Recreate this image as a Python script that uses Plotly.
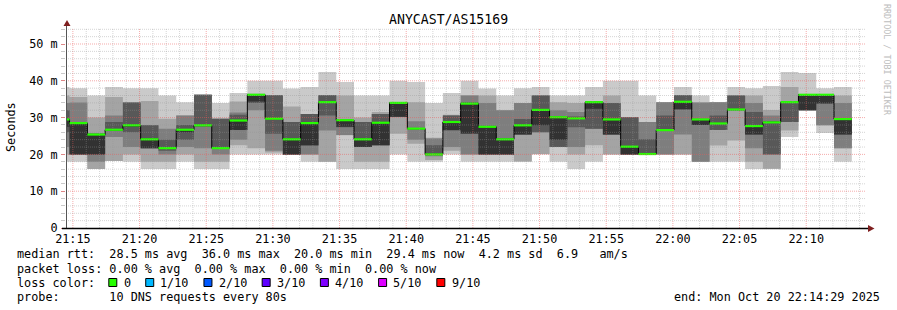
import pandas as pd
import plotly.graph_objects as go

# ---------------- data ----------------
title = "ANYCAST/AS15169"
step_start = "2025-10-20 21:13:25"   # start of first (partially visible) 80 s step
step_seconds = 80
range_start = "2025-10-20 21:14:29"
range_end = "2025-10-20 22:14:29"

# sorted ping times (ms) per 80 s step, p1 = fastest ... p10 = slowest
p1 = [18, 18, 16, 18.2, 18, 16, 16, 18, 16, 16, 20, 20, 20, 20, 18, 18, 16, 16, 16, 20, 18, 18, 20,
      18, 18, 18, 18, 20, 18, 16, 18, 20, 20, 20, 20, 20, 18, 18, 18, 16, 16, 24.7, 32, 25.8, 18]
p2 = [20, 20, 16, 18.2, 20, 18, 18, 20, 18, 18, 22.5, 21.7, 20.5, 20, 20, 18, 25.2, 18, 18, 25.6, 22.9, 18.5, 21,
      20, 20, 20, 18.1, 20.1, 22, 20, 22.5, 20, 20, 20, 20, 20, 18, 22.4, 23.8, 18, 16.1, 26.5, 32, 27.9, 21.7]
p3 = [22, 20, 18, 24.7, 22, 21.7, 20, 22, 21.7, 20, 24, 32, 21, 20, 20, 26.5, 25.3, 22, 22.5, 30.2, 24, 19.5, 22,
      20, 20, 20, 25.4, 26, 22, 22, 27, 25.4, 20, 20, 20, 25.4, 18, 26.6, 32, 21.7, 20, 28.8, 32, 27.9, 21.7]
p4 = [26, 20, 20, 26.4, 26, 21.7, 21, 24, 27.5, 21.6, 26.6, 34, 25.6, 20, 22.4, 30.6, 27.4, 22, 22.5, 30.2, 26.8, 19.8, 26.5,
      25.6, 20, 20, 25.4, 26, 22, 27.4, 27, 25.4, 20, 20, 26.5, 32.2, 28, 26.6, 32, 25.4, 20, 28.8, 32, 33.8, 25.4]
p5 = [27.5, 20, 20, 26.5, 27.5, 21.7, 21.5, 26, 27.7, 21.6, 26.6, 34.4, 29.6, 20, 22.5, 34, 27.5, 22, 22.5, 30.2, 26.9, 19.9, 26.6,
      25.7, 20, 20, 25.4, 27.9, 24, 29.7, 32.4, 25.4, 20, 20, 26.5, 32.3, 28, 28.3, 32, 25.4, 28.6, 34.1, 32, 33.8, 25.4]
p6 = [29.5, 28.5, 25.4, 26.7, 27.9, 24.1, 21.7, 26.7, 27.9, 21.7, 29.2, 36.2, 29.7, 24.1, 28.5, 34.2, 29.3, 24.1, 28.6, 34, 27, 20, 28.8,
      33.8, 27.5, 24.1, 27.9, 32.1, 30.1, 29.8, 34.2, 29.5, 22.1, 20.1, 26.6, 34.3, 29.5, 28.4, 32.2, 27.7, 28.7, 34.2, 36.2, 36.2, 29.6]
p7 = [32, 28.8, 25.6, 28.8, 34.1, 27.9, 24, 28, 36.2, 29.7, 30.8, 36.3, 36.1, 28.8, 31, 36.1, 29.4, 28.8, 31, 34.1, 27.2, 22.5, 30.6,
      34.2, 27.8, 24.3, 29.6, 36, 30.3, 30.3, 34.3, 34, 30.1, 24.1, 30.6, 36.1, 29.6, 30.6, 36, 31.5, 29.1, 34.3, 36.3, 36.3, 29.7]
p8 = [34, 34.1, 25.8, 30.6, 34.1, 27.9, 27, 30.6, 36.2, 29.7, 31.4, 36.4, 36.1, 28.8, 31, 36.1, 29.5, 28.8, 31, 34.1, 29, 24.3, 30.6,
      36, 34, 32, 34, 36, 32, 31.5, 34.3, 34, 30.1, 28.8, 34.2, 36.1, 34.1, 34.2, 36, 34, 30.6, 34.3, 36.3, 36.3, 34]
p9 = [36, 35.6, 30, 35.6, 34.1, 34.5, 29.7, 30.6, 36.2, 29.7, 34.4, 36.5, 36.1, 33, 31, 36.1, 36, 30, 31.5, 34.2, 34.2, 24.5, 30.8,
      36.1, 36, 32, 34, 36.1, 34.2, 34, 34.4, 36, 30.1, 28.8, 34.2, 36.1, 34.1, 34.2, 36, 36, 32.1, 38.3, 36.4, 36.4, 36]
p10 = [38.3, 38, 36, 38.3, 38, 38, 36, 34.2, 36.2, 34, 36.7, 40, 40, 37.9, 38.3, 42.4, 39.7, 36, 36, 40, 39.7, 34, 36.7,
       40, 37.9, 36, 38, 38.3, 36, 36, 38.3, 40, 40, 36, 34.2, 38.3, 36, 34.2, 38.3, 38, 38.6, 42.4, 42.1, 38, 38.3]
median_rtt = [29.5, 28.5, 25.4, 26.7, 27.9, 24.1, 21.7, 26.7, 27.9, 21.7, 29.2, 36.2, 29.7, 24.1, 28.5, 34.2, 29.3, 24.1, 28.6, 34, 27, 20, 28.8,
              33.8, 27.5, 24.1, 27.9, 32.1, 30.1, 29.8, 34.2, 29.5, 22.1, 20.1, 26.6, 34.3, 29.5, 28.4, 32.2, 27.7, 28.7, 34.2, 36.2, 36.2, 29.6]

y_tick_vals = [0, 10, 20, 30, 40, 50]
y_tick_text = ["0", "10 m", "20 m", "30 m", "40 m", "50 m"]

stats_line = "median rtt:  28.5 ms avg  36.0 ms max  20.0 ms min  29.4 ms now  4.2 ms sd  6.9   am/s"
loss_line = "packet loss: 0.00 % avg  0.00 % max  0.00 % min  0.00 % now"
loss_title = "loss color:"
loss_labels = ["0", "1/10", "2/10", "3/10", "4/10", "5/10", "9/10"]
loss_colors = ["#26ff00", "#00b8ff", "#0059ff", "#5e00ff", "#7e00ff", "#dd00ff", "#ff0000"]
probe_line = "probe:       10 DNS requests every 80s"
end_text = "end: Mon Oct 20 22:14:29 2025"
watermark = "RRDTOOL / TOBI OETIKER"

smoke_colors = ["#cacaca", "#a4a4a4", "#7e7e7e", "#585858", "#323232"]
median_color = "#26ff00"

# ---------------- geometry ----------------
W, H = 897, 310
PL, PR, PT, PB = 66, 866, 28, 228
PW, PH = PR - PL, PB - PT
Y_MAX = 54.35
FONT = "DejaVu Sans Mono"
FS = 11.8
CW = 7.1  # char width at FS


def fx(x):
    return (x - PL) / PW


def fy(y):
    return (PB - y) / PH


def nb(s):
    return s.replace(" ", "\u00a0")


edges = pd.date_range(step_start, periods=len(median_rtt) + 1, freq=f"{step_seconds}s")
ex = [t.strftime("%Y-%m-%d %H:%M:%S") for t in edges]

pings = [p1, p2, p3, p4, p5, p6, p7, p8, p9, p10]

fig = go.Figure()

# smoke bands: (p1,p10) lightest ... (p5,p6) darkest
for i in range(5):
    lo = pings[i]
    hi = pings[9 - i]
    fig.add_trace(go.Scatter(x=ex, y=lo + [lo[-1]], mode="lines", line=dict(width=0, shape="hv"),
                             hoverinfo="skip", showlegend=False))
    fig.add_trace(go.Scatter(x=ex, y=hi + [hi[-1]], mode="lines", line=dict(width=0, shape="hv"),
                             fill="tonexty", fillcolor=smoke_colors[i], hoverinfo="skip", showlegend=False))

# thin black step line of median
fig.add_trace(go.Scatter(x=ex, y=median_rtt + [median_rtt[-1]], mode="lines",
                         line=dict(color="black", width=1, shape="hv"), hoverinfo="skip", showlegend=False))

# green median segments
gx, gy = [], []
for k, m in enumerate(median_rtt):
    gx += [ex[k], ex[k + 1], None]
    gy += [m, m, None]
fig.add_trace(go.Scatter(x=gx, y=gy, mode="lines", line=dict(color=median_color, width=2.2),
                         hoverinfo="skip", showlegend=False))

shapes = []
# grid on top (rrdtool style)
t0 = pd.Timestamp(range_start)
t1 = pd.Timestamp(range_end)
minute = t0.ceil("min")
while minute <= t1:
    major = minute.minute % 5 == 0
    shapes.append(dict(type="line", xref="x", yref="paper", x0=minute, x1=minute, y0=0, y1=1,
                       layer="above",
                       line=dict(color="rgba(235,90,90,0.5)" if major else "rgba(150,150,150,0.4)",
                                 width=1, dash="1px,1px")))
    minute += pd.Timedelta(minutes=1)
for v in range(2, int(Y_MAX) + 1, 2):
    major = v % 10 == 0
    shapes.append(dict(type="line", xref="paper", yref="y", x0=0, x1=1, y0=v, y1=v, layer="above",
                       line=dict(color="rgba(235,90,90,0.5)" if major else "rgba(150,150,150,0.4)",
                                 width=1, dash="1px,1px")))

# axes lines and arrows
shapes.append(dict(type="line", xref="paper", yref="paper", x0=fx(66.5), x1=fx(66.5), y0=fy(228), y1=fy(24),
                   layer="above", line=dict(color="#555555", width=1)))
shapes.append(dict(type="line", xref="paper", yref="paper", x0=fx(62), x1=fx(870), y0=fy(228.5), y1=fy(228.5),
                   layer="above", line=dict(color="black", width=1.5)))
arrow_col = "#7f1f1f"
shapes.append(dict(type="path", xref="paper", yref="paper", layer="above",
                   path=f"M {fx(63.5)},{fy(26)} L {fx(70.5)},{fy(26)} L {fx(67)},{fy(20)} Z",
                   fillcolor=arrow_col, line=dict(width=0)))
shapes.append(dict(type="path", xref="paper", yref="paper", layer="above",
                   path=f"M {fx(868)},{fy(225)} L {fx(868)},{fy(232)} L {fx(874.5)},{fy(228.5)} Z",
                   fillcolor=arrow_col, line=dict(width=0)))

annotations = []


def txt(s, x, y, xanchor="left", size=FS, color="black", angle=0):
    annotations.append(dict(text=nb(s), x=fx(x), y=fy(y), xref="paper", yref="paper",
                            xanchor=xanchor, yanchor="middle", showarrow=False, textangle=angle,
                            font=dict(family=FONT, size=size, color=color), borderpad=0))


txt(title, 448, 19, xanchor="center", size=13.2)
txt("Seconds", 11, 127, xanchor="center", angle=-90)
txt(watermark, 887, 60, xanchor="center", size=8.4, color="#bdbdbd", angle=90)

txt(stats_line, 16, 254)
txt(loss_line, 16, 268.5)
txt(loss_title, 16, 282.5)
txt(probe_line, 16, 296.5)
txt(end_text, 881, 296.5, xanchor="right")

cur = 16 + 13 * CW
for lab, col in zip(loss_labels, loss_colors):
    shapes.append(dict(type="rect", xref="paper", yref="paper", x0=fx(cur + 0.5), x1=fx(cur + 8.5),
                       y0=fy(286.5), y1=fy(278.5), fillcolor=col, line=dict(color="black", width=1)))
    lx = cur + 2 * CW
    txt(lab, lx, 282.5)
    cur = lx + len(lab) * CW + 2.2 * CW

fig.update_layout(
    width=W, height=H,
    margin=dict(l=PL, r=W - PR, t=PT, b=H - PB, pad=0),
    paper_bgcolor="white", plot_bgcolor="white",
    showlegend=False,
    shapes=shapes,
    annotations=annotations,
    font=dict(family=FONT, size=FS, color="black"),
    xaxis=dict(type="date", range=[range_start, range_end], showgrid=False, zeroline=False,
               showline=False, tickformat="%H:%M", dtick=300000, tick0="2025-10-20 21:15:00",
               ticks="", tickfont=dict(family=FONT, size=FS, color="black"), ticklabelstandoff=2),
    yaxis=dict(range=[0, Y_MAX], showgrid=False, zeroline=False, showline=False,
               tickmode="array", tickvals=y_tick_vals, ticktext=[nb(t) for t in y_tick_text],
               ticks="outside", ticklen=4, tickcolor="rgba(235,90,90,0.6)",
               minor=dict(ticks="outside", ticklen=4, tickcolor="rgba(150,150,150,0.5)", dtick=2, tick0=0),
               tickfont=dict(family=FONT, size=FS, color="black"), ticklabelstandoff=1),
)

fig.write_html("out.html")
